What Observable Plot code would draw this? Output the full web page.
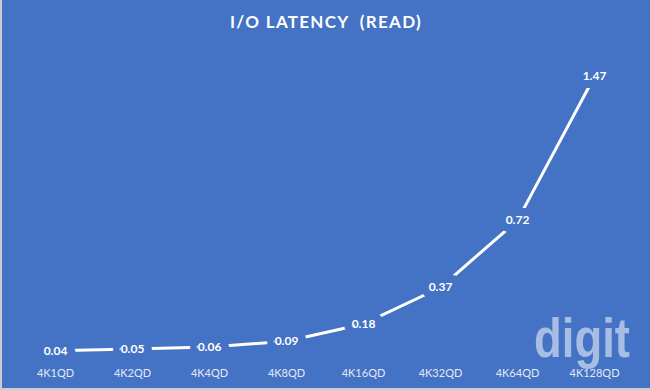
<!DOCTYPE html>
<html>
<head>
<meta charset="utf-8">
<script src="https://cdn.jsdelivr.net/npm/d3@7"></script>
<script src="https://cdn.jsdelivr.net/npm/@observablehq/plot@0.6"></script>
<style>
  html, body { margin: 0; padding: 0; background: #4472C4; }
  #wrap { position: relative; width: 650px; height: 390px; background: #4472C4; box-sizing: border-box; border-left: 2px solid #C8CCD4; border-bottom: 2px solid #C8CCD4; overflow: hidden; }
  #title { height: 45px; line-height: 44px; text-align: center; color: #fff; font-family: Lato, "Open Sans", sans-serif; font-weight: 700; font-size: 17px; letter-spacing: 1.3px; }
  #logo { position: absolute; left: 0; top: 0; }
  #chart { position: absolute; left: -2px; top: 45px; }
</style>
</head>
<body>
<div id="wrap">
  <div id="title">I/O LATENCY&nbsp; (READ)</div>
  <svg id="logo" width="650" height="390"><text x="532" y="357" font-family="'Liberation Sans', Arial, sans-serif" font-weight="700" font-size="55" fill="#A8BDE3" textLength="96" lengthAdjust="spacingAndGlyphs">digit</text></svg>
  <div id="chart"></div>
</div>
<script>
const categories = ["4K1QD", "4K2QD", "4K4QD", "4K8QD", "4K16QD", "4K32QD", "4K64QD", "4K128QD"];
const latency = [0.04, 0.05, 0.06, 0.09, 0.18, 0.37, 0.72, 1.47];
const labels = ["0.04", "0.05", "0.06", "0.09", "0.18", "0.37", "0.72", "1.47"];

const data = categories.map((c, i) => ({cat: c, v: latency[i], label: labels[i]}));
const bg = "#4472C4";

const plot = Plot.plot({
  width: 650,
  height: 345,
  marginLeft: 16,
  marginRight: 17,
  marginTop: 6,
  marginBottom: 32,
  style: {background: "transparent", fontFamily: "Lato, 'Open Sans', sans-serif"},
  x: {type: "point", domain: categories, padding: 0.5, label: null},
  y: {domain: [0, 1.6], axis: null},
  marks: [
    Plot.axisX({tickSize: 0, tickPadding: 11, fontSize: 11, color: "#E3E9F5", label: null}),
    Plot.line(data, {x: "cat", y: "v", stroke: "white", strokeWidth: 3}),
    Plot.text(data, {x: "cat", y: "v", text: "label", fill: "white", stroke: bg, strokeWidth: 16, strokeLinejoin: "round", fontSize: 12, fontWeight: "bold", paintOrder: "stroke"})
  ]
});
document.getElementById("chart").appendChild(plot);
</script>
</body>
</html>
